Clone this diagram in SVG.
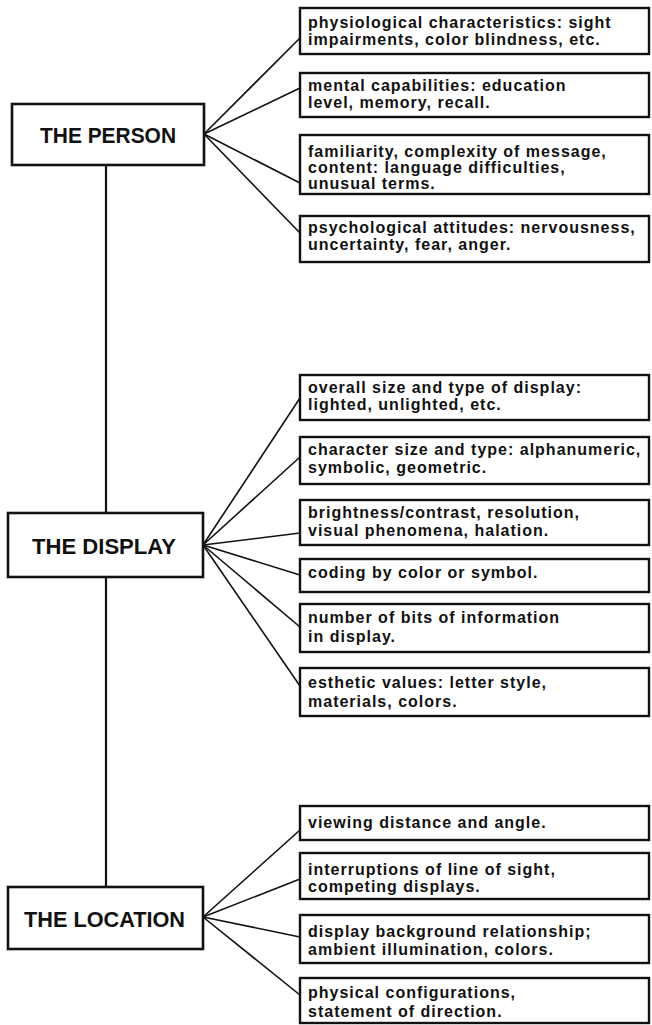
<svg xmlns="http://www.w3.org/2000/svg" width="652" height="1025" viewBox="0 0 652 1025">
  <style>
    .main rect { fill: #fff; stroke: #111; stroke-width: 2.6; }
    .main text { font-family: "Liberation Sans", Arial, sans-serif; font-weight: bold; font-size: 22px; fill: #111; }
    .item rect { fill: #fff; stroke: #111; stroke-width: 2.4; }
    .item text { font-family: "Liberation Sans", Arial, sans-serif; font-weight: bold; font-size: 16px; letter-spacing: 1px; fill: #111; }
    .links line { stroke: #111; stroke-width: 1.6; }
    .links .spine { stroke-width: 2.2; }
  </style>
  <rect width="652" height="1025" fill="#fff"/>

  <!-- connectors -->
  <g id="connectors" class="links">
    <line class="spine" x1="106" y1="165" x2="106" y2="513"/>
    <line class="spine" x1="106" y1="577" x2="106" y2="887"/>
    <!-- person fan -->
    <line x1="204" y1="134" x2="300" y2="38"/>
    <line x1="204" y1="134" x2="300" y2="88"/>
    <line x1="204" y1="134" x2="300" y2="183"/>
    <line x1="204" y1="134" x2="300" y2="233"/>
    <!-- display fan -->
    <line x1="203" y1="545" x2="300" y2="398"/>
    <line x1="203" y1="545" x2="300" y2="457"/>
    <line x1="203" y1="545" x2="300" y2="533"/>
    <line x1="203" y1="545" x2="300" y2="575"/>
    <line x1="203" y1="545" x2="300" y2="627"/>
    <line x1="203" y1="545" x2="300" y2="686"/>
    <!-- location fan -->
    <line x1="203" y1="917" x2="300" y2="830"/>
    <line x1="203" y1="917" x2="300" y2="879"/>
    <line x1="203" y1="917" x2="300" y2="937"/>
    <line x1="203" y1="917" x2="300" y2="995"/>
  </g>

  <!-- main nodes -->
  <g id="person" class="main">
    <rect x="12" y="104" width="192" height="61"/>
    <text x="108" y="143" text-anchor="middle" textLength="136" lengthAdjust="spacingAndGlyphs">THE PERSON</text>
  </g>
  <g id="display" class="main">
    <rect x="8" y="513" width="195" height="64"/>
    <text x="104" y="554" text-anchor="middle" textLength="144" lengthAdjust="spacingAndGlyphs">THE DISPLAY</text>
  </g>
  <g id="location" class="main">
    <rect x="8" y="887" width="195" height="62"/>
    <text x="104.5" y="927" text-anchor="middle" textLength="161" lengthAdjust="spacingAndGlyphs">THE LOCATION</text>
  </g>

  <!-- person factors -->
  <g id="p1" class="item">
    <rect x="300" y="8" width="349" height="46"/>
    <text x="308" y="28">physiological characteristics: sight</text>
    <text x="308" y="45">impairments, color blindness, etc.</text>
  </g>
  <g id="p2" class="item">
    <rect x="300" y="73" width="349" height="44"/>
    <text x="308" y="91">mental capabilities: education</text>
    <text x="308" y="108">level, memory, recall.</text>
  </g>
  <g id="p3" class="item">
    <rect x="300" y="135" width="349" height="59"/>
    <text x="308" y="157">familiarity, complexity of message,</text>
    <text x="308" y="173">content: language difficulties,</text>
    <text x="308" y="189">unusual terms.</text>
  </g>
  <g id="p4" class="item">
    <rect x="300" y="216" width="349" height="46"/>
    <text x="308" y="233">psychological attitudes: nervousness,</text>
    <text x="308" y="250">uncertainty, fear, anger.</text>
  </g>

  <!-- display factors -->
  <g id="d1" class="item">
    <rect x="300" y="375" width="349" height="45"/>
    <text x="308" y="393">overall size and type of display:</text>
    <text x="308" y="410">lighted, unlighted, etc.</text>
  </g>
  <g id="d2" class="item">
    <rect x="300" y="437" width="349" height="47"/>
    <text x="308" y="455">character size and type: alphanumeric,</text>
    <text x="308" y="473">symbolic, geometric.</text>
  </g>
  <g id="d3" class="item">
    <rect x="300" y="500" width="349" height="45"/>
    <text x="308" y="518">brightness/contrast, resolution,</text>
    <text x="308" y="536">visual phenomena, halation.</text>
  </g>
  <g id="d4" class="item">
    <rect x="300" y="559" width="349" height="33"/>
    <text x="308" y="578">coding by color or symbol.</text>
  </g>
  <g id="d5" class="item">
    <rect x="300" y="604" width="349" height="48"/>
    <text x="308" y="623">number of bits of information</text>
    <text x="308" y="642">in display.</text>
  </g>
  <g id="d6" class="item">
    <rect x="300" y="668" width="349" height="48"/>
    <text x="308" y="688">esthetic values: letter style,</text>
    <text x="308" y="707">materials, colors.</text>
  </g>

  <!-- location factors -->
  <g id="l1" class="item">
    <rect x="300" y="806" width="349" height="34"/>
    <text x="308" y="828">viewing distance and angle.</text>
  </g>
  <g id="l2" class="item">
    <rect x="300" y="853" width="349" height="46"/>
    <text x="308" y="875">interruptions of line of sight,</text>
    <text x="308" y="892">competing displays.</text>
  </g>
  <g id="l3" class="item">
    <rect x="300" y="915" width="349" height="48"/>
    <text x="308" y="937">display background relationship;</text>
    <text x="308" y="955">ambient illumination, colors.</text>
  </g>
  <g id="l4" class="item">
    <rect x="300" y="978" width="349" height="45"/>
    <text x="308" y="998">physical configurations,</text>
    <text x="308" y="1017">statement of direction.</text>
  </g>
</svg>
